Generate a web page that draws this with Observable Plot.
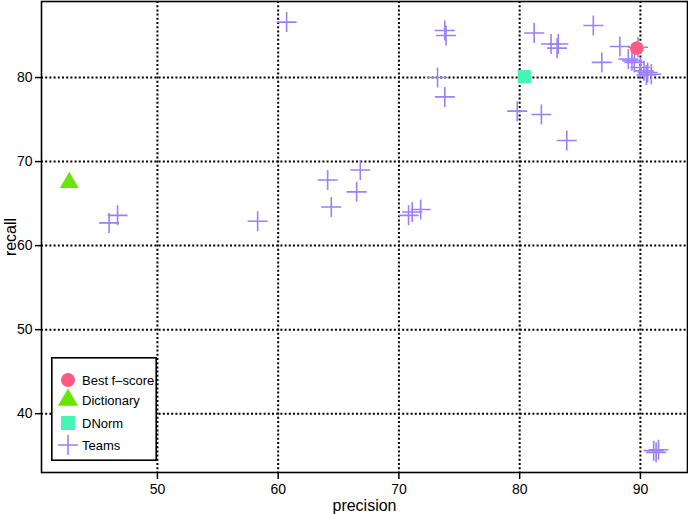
<!DOCTYPE html>
<html>
<head>
<meta charset="utf-8">
<script src="https://cdn.jsdelivr.net/npm/d3@7"></script>
<script src="https://cdn.jsdelivr.net/npm/@observablehq/plot@0.6"></script>
<style>
  html, body { margin: 0; padding: 0; background: #fff; }
  #wrap { position: relative; width: 688px; height: 514px; font-family: "Liberation Sans", Arial, Helvetica, sans-serif; }
  #legend { position: absolute; }
</style>
</head>
<body>
<div id="wrap"></div>
<script>
// ---- data ----
const teamPrecision = [46.0, 46.7, 58.3, 60.7, 64.1, 64.4, 66.5, 66.8, 70.8, 71.1, 71.8, 73.2, 73.8, 73.9, 73.8, 79.8, 81.2, 81.8, 82.6, 83.2, 83.1, 83.9, 86.1, 86.8, 88.3, 89.0, 89.3, 89.5, 89.8, 90.0, 90.3, 90.6, 90.9, 90.5, 91.1, 91.3, 91.5];
const teamRecall    = [62.7, 63.6, 62.9, 86.6, 67.8, 64.6, 66.4, 69.0, 63.6, 64.0, 64.3, 80.0, 85.6, 85.0, 77.7, 76.0, 85.3, 75.6, 84.0, 84.0, 83.5, 72.5, 86.2, 81.8, 83.7, 82.2, 82.0, 81.8, 83.6, 81.2, 80.8, 80.6, 80.4, 80.3, 35.6, 35.4, 35.7];
const bestPrecision = [89.7];
const bestRecall = [83.5];
const dictPrecision = [42.7];
const dictRecall = [67.5];
const dnormPrecision = [80.4];
const dnormRecall = [80.1];
const xTicks = [50, 60, 70, 80, 90];
const yTicks = [40, 50, 60, 70, 80];
const legendLabels = ["Best f\u2013score", "Dictionary", "DNorm", "Teams"];

const teamColor = "#9d7ff7";
const bestColor = "#ff5a80";
const dictColor = "#66e600";
const dnormColor = "#46f5b4";

const teams = teamPrecision.map((p, i) => ({precision: p, recall: teamRecall[i]}));
const best = bestPrecision.map((p, i) => ({precision: p, recall: bestRecall[i]}));
const dict = dictPrecision.map((p, i) => ({precision: p, recall: dictRecall[i]}));
const dnorm = dnormPrecision.map((p, i) => ({precision: p, recall: dnormRecall[i]}));

const crossSymbol = {
  draw(ctx, size) {
    const r = Math.sqrt(size / Math.PI);
    ctx.moveTo(-r, 0); ctx.lineTo(r, 0);
    ctx.moveTo(0, -r); ctx.lineTo(0, r);
  }
};

const grid = {stroke: "#000", strokeOpacity: 1, strokeWidth: 2, strokeDasharray: "2,2.2"};
const fontStack = '"Liberation Sans", Arial, Helvetica, sans-serif';

const chart = Plot.plot({
  width: 688,
  height: 514,
  marginLeft: 41,
  marginRight: 1,
  marginTop: 1,
  marginBottom: 42,
  style: {fontFamily: fontStack, fontSize: "14px", background: "#fff", color: "#000"},
  x: {domain: [40.4, 93.9]},
  y: {domain: [33.0, 89.05]},
  marks: [
    Plot.gridX(xTicks, grid),
    Plot.gridY(yTicks, grid),
    Plot.axisX(xTicks, {tickSize: 7, tickPadding: 5, tickFormat: d => String(d), fontSize: 14, label: "precision", labelAnchor: "center", labelOffset: 38, labelArrow: "none", strokeWidth: 1.5}),
    Plot.axisY(yTicks, {tickSize: 6, tickPadding: 3, tickFormat: d => String(d), fontSize: 14, label: "recall", labelAnchor: "center", labelOffset: 37, labelArrow: "none", strokeWidth: 1.5}),
    Plot.dot(teams, {x: "precision", y: "recall", symbol: crossSymbol, r: 10, stroke: teamColor, fill: "none", strokeWidth: 1.6}),
    Plot.dot(dnorm, {x: "precision", y: "recall", symbol: "square", r: 7.5, fill: dnormColor, stroke: "none"}),
    Plot.dot(dict, {x: "precision", y: "recall", symbol: "triangle", r: 7, fill: dictColor, stroke: "none"}),
    Plot.dot(best, {x: "precision", y: "recall", symbol: "circle", r: 6.8, fill: bestColor, stroke: "none"}),
    Plot.frame({stroke: "#000", strokeWidth: 1.6})
  ]
});

// larger axis label fonts
d3.select(chart).selectAll("[aria-label='x-axis label'] text, [aria-label='y-axis label'] text").style("font-size", "16px");

const wrap = document.getElementById("wrap");
wrap.appendChild(chart);

// ---- legend (HTML overlay with svg symbols) ----
const lw = 106, lh = 104;
const legend = d3.select(wrap).append("svg")
  .attr("id", "legend")
  .attr("width", lw).attr("height", lh)
  .style("left", "51px").style("top", "357px");
legend.append("rect").attr("x", 0.8).attr("y", 0.8).attr("width", lw - 1.6).attr("height", lh - 1.6)
  .attr("fill", "#fff").attr("stroke", "#000").attr("stroke-width", 1.6);
const rowsY = [23, 43, 66, 88];
const sx = 17;
legend.append("circle").attr("cx", sx).attr("cy", rowsY[0]).attr("r", 7).attr("fill", bestColor);
legend.append("path").attr("transform", `translate(${sx},${rowsY[1]})`).attr("d", d3.symbol(d3.symbolTriangle, 175)()).attr("fill", dictColor);
legend.append("rect").attr("x", sx - 7).attr("y", rowsY[2] - 7).attr("width", 14).attr("height", 14).attr("fill", dnormColor);
legend.append("path").attr("d", `M${sx - 10},${rowsY[3]}H${sx + 10}M${sx},${rowsY[3] - 10}V${rowsY[3] + 10}`).attr("stroke", teamColor).attr("stroke-width", 1.6).attr("fill", "none");
legend.selectAll("text.lbl").data(legendLabels).join("text")
  .attr("class", "lbl")
  .attr("x", 31).attr("y", (d, i) => rowsY[i])
  .attr("dy", "0.35em")
  .style("font-family", fontStack)
  .style("font-size", "13px")
  .text(d => d);
</script>
</body>
</html>
